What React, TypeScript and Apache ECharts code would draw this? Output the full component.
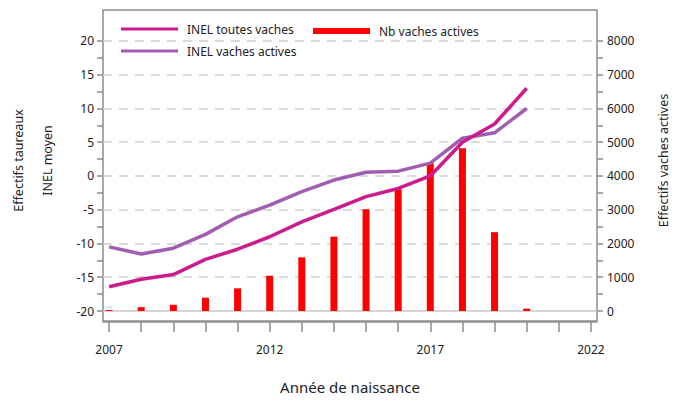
import React, { useEffect, useRef } from "react";
import * as echarts from "echarts";

const years = [2007, 2008, 2009, 2010, 2011, 2012, 2013, 2014, 2015, 2016, 2017, 2018, 2019, 2020];
const inelToutes = [-16.4, -15.3, -14.6, -12.35, -10.85, -9.0, -6.8, -4.95, -3.05, -1.85, 0.0, 5.0, 7.7, 13.0];
const inelActives = [-10.5, -11.56, -10.7, -8.65, -6.05, -4.3, -2.33, -0.6, 0.55, 0.72, 1.9, 5.6, 6.4, 10.0];
const nbActives = [30, 115, 185, 395, 670, 1045, 1590, 2203, 3015, 3607, 4380, 4825, 2335, 70];
const xMajorTicks = [2007, 2012, 2017, 2022];
const xMinorTicks = [2007, 2008, 2009, 2010, 2011, 2012, 2013, 2014, 2015, 2016, 2017, 2018, 2019, 2020, 2021, 2022];
const leftTicks = [-20, -17.5, -15, -12.5, -10, -7.5, -5, -2.5, 0, 2.5, 5, 7.5, 10, 12.5, 15, 17.5, 20];
const leftLabels = [-20, -15, -10, -5, 0, 5, 10, 15, 20];
const rightTicks = [0, 500, 1000, 1500, 2000, 2500, 3000, 3500, 4000, 4500, 5000, 5500, 6000, 6500, 7000, 7500, 8000];
const rightLabels = [0, 1000, 2000, 3000, 4000, 5000, 6000, 7000, 8000];

const FONT = "Noto Sans";
const TXT = "#222";
const AXIS = "#8c8c8c";
const RED = "#ff0000";

export default function App() {
  const ref = useRef<HTMLDivElement>(null);
  useEffect(() => {
    if (!ref.current) return;
    const chart = echarts.init(ref.current, null, { renderer: "svg" });
    const option = {
      animation: false,
      backgroundColor: "#fff",
      textStyle: { fontFamily: FONT },
      grid: { left: 103, right: 85, top: 10, bottom: 90, containLabel: false, outerBoundsMode: "none" },
      legend: [
        {
          left: 116,
          top: 18,
          orient: "vertical",
          itemWidth: 57,
          itemHeight: 3,
          itemGap: 10,
          textStyle: { fontFamily: FONT, fontSize: 12, color: TXT, padding: [0, 0, 0, 4] },
          data: [
            { name: "INEL toutes vaches", icon: "rect" },
            { name: "INEL vaches actives", icon: "rect" },
          ],
        },
        {
          left: 308,
          top: 20,
          itemWidth: 57,
          itemHeight: 6,
          textStyle: { fontFamily: FONT, fontSize: 12, color: TXT, padding: [0, 0, 0, 4] },
          data: [{ name: "Nb vaches actives", icon: "rect", itemStyle: { color: RED } }],
        },
      ],
      xAxis: {
        type: "value",
        min: 2006.81,
        max: 2022.19,
        offset: 11,
        name: "Année de naissance",
        nameLocation: "middle",
        nameGap: 57,
        nameTextStyle: { fontFamily: FONT, fontSize: 15, color: TXT },
        axisLine: { show: true, onZero: false, lineStyle: { color: AXIS, width: 1.5 } },
        axisTick: { show: true, customValues: xMinorTicks, length: 10, lineStyle: { color: AXIS, width: 1.5 } },
        axisLabel: {
          customValues: xMajorTicks,
          margin: 21,
          fontFamily: FONT,
          fontSize: 12,
          color: TXT,
          formatter: (v: number) => String(Math.round(v)),
        },
        splitLine: { show: false },
      },
      yAxis: [
        {
          type: "value",
          min: -20,
          max: 24.59,
          interval: 5,
          name: "Effectifs taureaux\nINEL moyen",
          nameLocation: "middle",
          nameRotate: 90,
          nameGap: 41,
          nameTextStyle: { fontFamily: FONT, fontSize: 12.5, color: TXT, lineHeight: 29 },
          axisLine: { show: false, onZero: false },
          axisTick: { show: true, customValues: leftTicks, length: 6, lineStyle: { color: AXIS, width: 1.5 } },
          axisLabel: { customValues: leftLabels, margin: 9, fontFamily: FONT, fontSize: 12, color: TXT },
          splitLine: { show: false },
        },
        {
          type: "value",
          min: 0,
          max: 8918,
          interval: 1000,
          position: "right",
          name: "Effectifs vaches actives",
          nameLocation: "middle",
          nameRotate: 90,
          nameGap: 60,
          nameTextStyle: { fontFamily: FONT, fontSize: 12.5, color: TXT },
          axisLine: { show: false, onZero: false },
          axisTick: { show: true, customValues: rightTicks, length: 6, lineStyle: { color: AXIS, width: 1.5 } },
          axisLabel: {
            customValues: rightLabels,
            margin: 10,
            fontFamily: FONT,
            fontSize: 12,
            color: TXT,
            formatter: (v: number) => String(Math.round(v)),
          },
          splitLine: { show: false },
        },
      ],
      graphic: [
        {
          type: "rect",
          shape: { x: 103, y: 10, width: 494, height: 311 },
          style: { fill: "none", stroke: AXIS, lineWidth: 1.5 },
          silent: true,
          z: 0,
        },
      ],
      series: [
        {
          name: "Nb vaches actives",
          type: "custom",
          yAxisIndex: 1,
          itemStyle: { color: RED },
          encode: { x: 0, y: 1 },
          data: years.map((y, i) => [y, nbActives[i]]),
          renderItem: (params: any, api: any) => {
            const x = api.value(0);
            const v = api.value(1);
            const top = api.coord([x, v]);
            const base = api.coord([x, 0]);
            return {
              type: "rect",
              shape: { x: top[0] - 3.5, y: top[1], width: 7, height: base[1] - top[1] },
              style: { fill: RED },
            };
          },
          z: 2,
        },
        {
          name: "INEL vaches actives",
          type: "line",
          yAxisIndex: 0,
          symbol: "none",
          lineStyle: { color: "#a05db2", width: 3.5 },
          itemStyle: { color: "#a05db2" },
          data: years.map((y, i) => [y, inelActives[i]]),
          markLine: {
            silent: true,
            symbol: "none",
            label: { show: false },
            z: 1,
            lineStyle: { color: "#cfcfcf", type: [9, 7], width: 1.5 },
            data: leftLabels.map((v) =>
              v === -20
                ? { yAxis: v, lineStyle: { color: "#c8c8c8", type: "solid", width: 1.5 } }
                : { yAxis: v }
            ),
          },
          z: 3,
        },
        {
          name: "INEL toutes vaches",
          type: "line",
          yAxisIndex: 0,
          symbol: "none",
          lineStyle: { color: "#cc1b8c", width: 3.5 },
          itemStyle: { color: "#cc1b8c" },
          data: years.map((y, i) => [y, inelToutes[i]]),
          z: 4,
        },
      ],
    };
    chart.setOption(option as any);
    return () => chart.dispose();
  }, []);
  return <div ref={ref} style={{ width: 682, height: 401, position: "absolute", left: 0, top: 0 }} />;
}
